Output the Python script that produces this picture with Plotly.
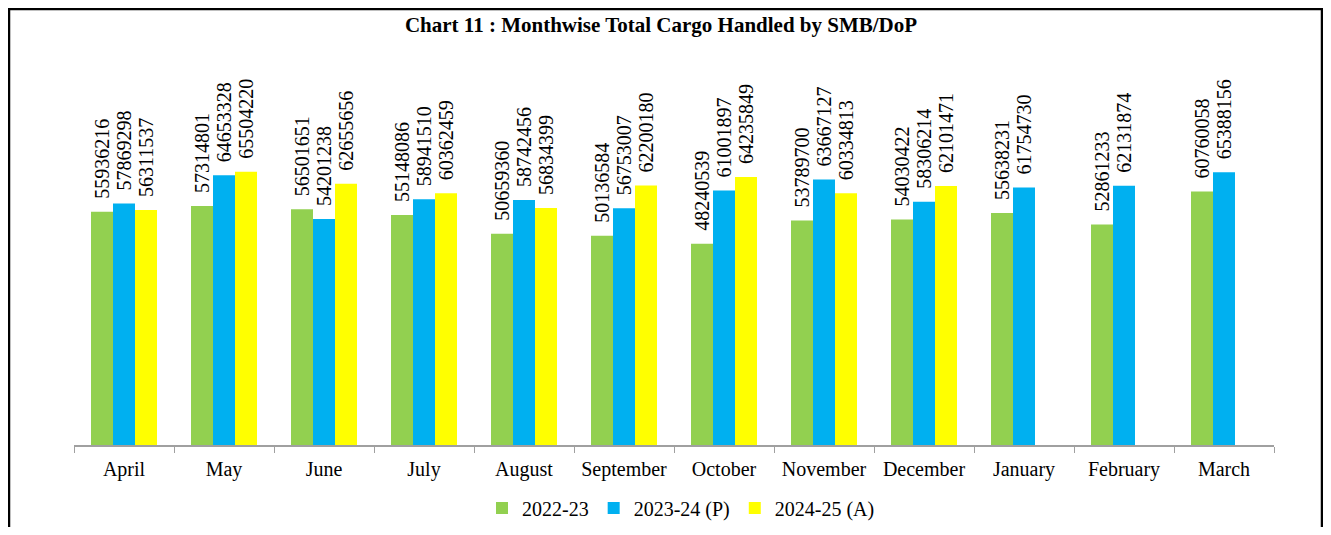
import plotly.graph_objects as go

months = ["April", "May", "June", "July", "August", "September", "October",
          "November", "December", "January", "February", "March"]
s2022 = [55936216, 57314801, 56501651, 55148086, 50659360, 50136584, 48240539,
         53789700, 54030422, 55638231, 52861233, 60760058]
s2023 = [57869298, 64653328, 54201238, 58941510, 58742456, 56753007, 61001897,
         63667127, 58306214, 61754730, 62131874, 65388156]
s2024 = [56311537, 65504220, 62655656, 60362459, 56834399, 62200180, 64235849,
         60334813, 62101471, None, None, None]

names = ["2022-23", "2023-24 (P)", "2024-25 (A)"]
colors = ["#92D050", "#00B0F0", "#FFFF00"]

# page body adds an 8px margin; figure coordinates = reference - 8
W, H = 1315, 519
L, T = 66, 145
R = W - (1274 - 8)
B = H - (445 - 8)
PW, PH = W - L - R, H - T - B

fig = go.Figure()
for name, vals, col in zip(names, [s2022, s2023, s2024], colors):
    fig.add_trace(go.Bar(
        x=months, y=vals, name=name, marker_color=col, marker_line_width=0,
        text=[("" if v is None else "\u00a0\u00a0" + str(v)) for v in vals],
        textposition="outside", textangle=-90, cliponaxis=False,
        constraintext="none",
        textfont=dict(family="Liberation Sans Narrow", size=20, color="#000000"),
    ))

fig.update_layout(
    width=W, height=H,
    barmode="group", bargap=0.34, bargroupgap=0,
    plot_bgcolor="white", paper_bgcolor="white",
    margin=dict(l=L, r=R, t=T, b=B, autoexpand=False),
    title=dict(text="<b>Chart 11 : Monthwise Total Cargo Handled by SMB/DoP</b>",
               x=(661 - 8) / W, xanchor="center", y=1 - (25 - 8) / H, yanchor="middle",
               font=dict(family="Liberation Serif", size=21, color="#000000")),
    legend=dict(orientation="h", x=(681 - 8 - L) / PW, xanchor="center",
                y=((H - B) - (508 - 8)) / PH,
                yanchor="middle", font=dict(family="Liberation Serif", size=20, color="#000000"),
                itemwidth=30, traceorder="normal"),
    showlegend=True,
)
fig.update_xaxes(
    type="category", showline=True, linecolor="#A0A0A0", linewidth=1.5,
    ticks="outside", tickson="boundaries", ticklen=6, tickcolor="#A0A0A0",
    ticklabelstandoff=5, automargin=False,
    tickfont=dict(family="Liberation Serif", size=20, color="#000000"),
    showgrid=False,
)
fig.update_yaxes(range=[0, 70000000], visible=False, showgrid=False, automargin=False)

# outer frame (bottom edge runs off the page, as in the reference)
fig.add_shape(type="rect", xref="paper", yref="paper",
              x0=(1 - L) / PW, x1=(W - 1 - L) / PW,
              y0=-(H + 10 - (H - B)) / PH, y1=(H - B - 1) / PH,
              line=dict(color="black", width=2.5), fillcolor="rgba(0,0,0,0)", layer="above")

fig.write_html("out.html")
